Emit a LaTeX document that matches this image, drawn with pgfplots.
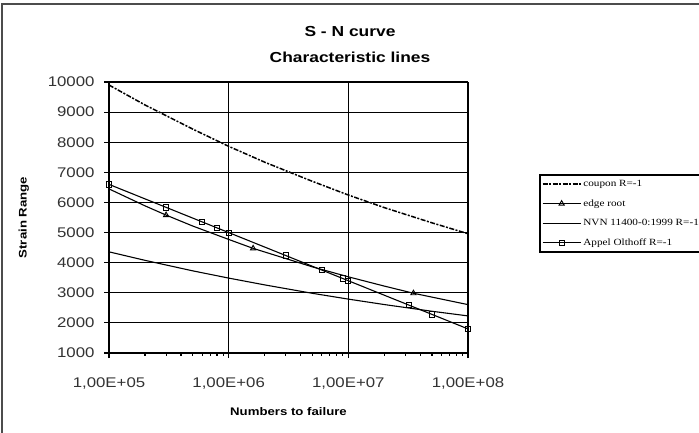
\documentclass[border=0pt]{standalone}
\usepackage{pgfplots}
\pgfplotsset{compat=1.18}
\usepackage{fontspec}
\setmainfont{Liberation Sans}
\newfontfamily\sfw[FakeStretch=1.2, BoldFeatures={FakeStretch=1.2}]{Liberation Sans}
\newfontfamily\rmw[FakeStretch=1.18]{Liberation Serif}

\pgfplotsset{
    leg line/.style={legend image code/.code={\draw[mark repeat=2,mark phase=2,##1] plot coordinates {(0pt,0pt) (19pt,0pt) (38pt,0pt)};}},
    leg mid/.style={legend image code/.code={\draw[##1, mark indices={2}] plot coordinates {(0pt,0pt) (19pt,0pt) (38pt,0pt)};}},
}

\begin{document}
\begin{tikzpicture}
\useasboundingbox (0,0) rectangle (699pt,432pt);
\fill[white] (0,0) rectangle (699pt,432pt);
% outer chart frame (only left and top edges are visible)
\draw[line width=2pt, black!70] (2pt,-10pt) -- (2pt,428pt) -- (710pt,428pt);

% title
\node[font=\sfw\bfseries\fontsize{14.5}{16}\selectfont] at (350pt,400pt) {S - N curve};
\node[font=\sfw\bfseries\fontsize{14.5}{16}\selectfont] at (350pt,375pt) {Characteristic lines};

\begin{axis}[
    at={(109pt,79pt)}, anchor=south west,
    scale only axis,
    width=359pt, height=271pt,
    xmode=log,
    xmin=1e5, xmax=1e8,
    ymin=1000, ymax=10000,
    xtick={1e5,1e6,1e7,1e8},
    xticklabels={{1,00E+05},{1,00E+06},{1,00E+07},{1,00E+08}},
    minor xtick={},
    ytick distance=1000,
    scaled y ticks=false,
    grid=major,
    major grid style={line width=1.2pt, draw=black},
    axis line style={line width=1.2pt},
    tick style={line width=1.2pt, black},
    tick align=outside,
    major tick length=5pt,
    axis x line*=bottom, axis y line*=left,
    /pgf/number format/assume math mode=true,
    /pgf/number format/set thousands separator={},
    yticklabel style={font=\sfw\fontsize{14}{16}\selectfont, text=black!80, xshift=-6pt},
    xticklabel style={font=\sfw\fontsize{14}{16}\selectfont, text=black!80, yshift=-16pt},
    xlabel={Numbers to failure},
    ylabel={Strain Range},
    xlabel style={font=\sfw\bfseries\fontsize{11}{13}\selectfont, at={(rel axis cs:0.5,-0.2177)}, anchor=center},
    ylabel style={font=\sfw\bfseries\fontsize{11}{13}\selectfont, at={(rel axis cs:-0.237,0.5)}, anchor=center},
    legend style={
        at={(rel axis cs:1.198,0.6605)}, anchor=north west,
        draw=black, line width=1.6pt,
        font=\rmw\fontsize{9.5}{11.5}\selectfont,
        row sep=7.5pt, inner xsep=2pt, inner ysep=3.5pt,
        nodes={line width=0.8pt},
        column 2/.style={text width=129pt},
    },
    legend cell align=left,
    leg line,
]

% coupon R=-1
\addplot[black, line width=1.5pt, dash pattern=on 5pt off 1.5pt on 2pt off 1.5pt, no marks] coordinates {
    (1e5, 9900) (2e5, 9237) (5e5, 8438) (1e6, 7864) (2e6, 7337)
    (5e6, 6702) (1e7, 6247) (2e7, 5828) (5e7, 5323) (1e8, 4962)
};
\addlegendentry{coupon R=-1}

% edge root
\addplot[black, line width=1.1pt, mark=triangle, mark size=3pt, mark options={solid, fill=white, line width=0.9pt},
    mark indices={3,6,11}, leg mid] coordinates {
    (1e5, 6450) (2e5, 5887) (3e5, 5580) (5e5, 5218) (1e6, 4772) (1.6e6, 4475)
    (2e6, 4355) (5e6, 3861) (1e7, 3530) (2e7, 3222) (3.5e7, 2985) (5e7, 2856) (1e8, 2607)
};
\addlegendentry{edge root}

% NVN 11400-0:1999 R=-1
\addplot[black, line width=1.1pt, no marks] coordinates {
    (1e5, 4360) (2e5, 4077) (5e5, 3729) (1e6, 3488) (2e6, 3262)
    (5e6, 2983) (1e7, 2790) (2e7, 2609) (5e7, 2386) (1e8, 2232)
};
\addlegendentry{NVN 11400-0:1999 R=-1}

% Appel Olthoff R=-1
\addplot[black, line width=1.1pt, mark=square, mark size=2.6pt, mark options={solid, fill=white, line width=0.9pt}] coordinates {
    (1e5, 6600) (3e5, 5837) (6e5, 5355) (8e5, 5155) (1e6, 5000) (3e6, 4237)
    (6e6, 3755) (9e6, 3473) (1e7, 3400) (3.2e7, 2592) (5e7, 2282) (1e8, 1800)
};
\addlegendentry{Appel Olthoff R=-1}

\end{axis}
\end{tikzpicture}
\end{document}
